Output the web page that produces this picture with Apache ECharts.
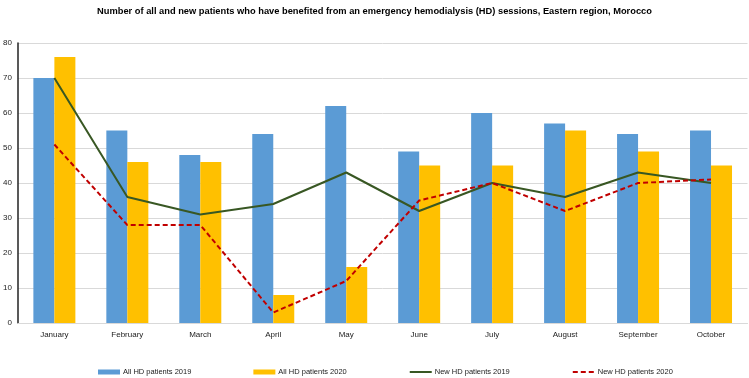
<!DOCTYPE html>
<html><head><meta charset="utf-8">
<script src="https://cdn.jsdelivr.net/npm/echarts@6/dist/echarts.min.js"></script>
<style>html,body{margin:0;padding:0;background:#fff}#c{width:749px;height:378px}</style>
</head><body><div id="c"></div>
<script>
const months = ['January','February','March','April','May','June','July','August','September','October'];
const allHD2019 = [70,55,48,54,62,49,60,57,54,55];
const allHD2020 = [76,46,46,8,16,45,45,55,49,45];
const newHD2019 = [70,36,31,34,43,32,40,36,43,40];
const newHD2020 = [51,28,28,3,12,35,40,32,40,41];
const yTicks = [0,10,20,30,40,50,60,70,80];

const FONT = '"Liberation Sans",Arial,sans-serif';
const chart = echarts.init(document.getElementById('c'), null, {renderer:'canvas'});
chart.setOption({
  animation:false,
  textStyle:{fontFamily:FONT},
  title:{text:'Number of all and new patients who have benefited from an emergency hemodialysis (HD) sessions, Eastern region, Morocco',
    left:'center', top:2, textStyle:{fontSize:9.3, fontWeight:'bold', color:'#000', fontFamily:FONT}},
  grid:{left:17.5, right:1.5, top:43, bottom:55, containLabel:false},
  legend:{top:363, left:93, itemWidth:22, itemHeight:5, itemGap:62,
    textStyle:{fontSize:7.5, color:'#222', fontFamily:FONT, padding:[0,0,0,-2]},
    data:[
      {name:'All HD patients 2019', icon:'rect'},
      {name:'All HD patients 2020', icon:'rect'},
      {name:'New HD patients 2019', itemStyle:{opacity:0}},
      {name:'New HD patients 2020', itemStyle:{opacity:0}}
    ]},
  xAxis:{type:'category', data:months,
    axisLine:{lineStyle:{color:'#d9d9d9'}}, axisTick:{show:false},
    axisLabel:{fontSize:8, color:'#222', margin:8, fontFamily:FONT}},
  yAxis:{type:'value', min:yTicks[0], max:yTicks[yTicks.length-1], interval:10,
    axisLine:{show:true, lineStyle:{color:'#222', width:1.5}},
    axisTick:{show:false},
    axisLabel:{fontSize:8, color:'#222', margin:6, fontFamily:FONT},
    splitLine:{lineStyle:{color:'#d9d9d9'}}},
  series:[
    {name:'All HD patients 2019', type:'bar', data:allHD2019, barWidth:21, barGap:'0%',
      itemStyle:{color:'#5b9bd5'}},
    {name:'All HD patients 2020', type:'bar', data:allHD2020, barWidth:21,
      itemStyle:{color:'#ffc000'}},
    {name:'New HD patients 2019', type:'line', data:newHD2019, symbol:'none',
      lineStyle:{color:'#385723', width:2}, itemStyle:{color:'#385723'}},
    {name:'New HD patients 2020', type:'line', data:newHD2020, symbol:'none',
      lineStyle:{color:'#c00000', width:2, type:[5,3]}, itemStyle:{color:'#c00000'}}
  ]
});
</script></body></html>
